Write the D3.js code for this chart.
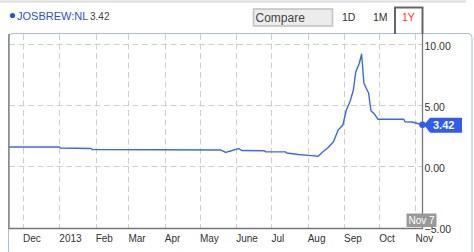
<!DOCTYPE html>
<html>
<head>
<meta charset="utf-8">
<script src="https://cdn.jsdelivr.net/npm/d3@7"></script>
<style>
  body { margin: 0; background: #fff; }
  svg { font-family: "Liberation Sans", Arial, sans-serif; }
</style>
</head>
<body>
<div id="chart"></div>
<script>
// price history, 1Y view
var priceDates = ["2012-11-19", "2013-01-01", "2013-01-02", "2013-01-28", "2013-01-29",
  "2013-05-19", "2013-05-23", "2013-05-27", "2013-06-03", "2013-06-06", "2013-06-25",
  "2013-06-26", "2013-07-13", "2013-07-14", "2013-07-24", "2013-08-04", "2013-08-10",
  "2013-08-14", "2013-08-18", "2013-08-23", "2013-08-27", "2013-08-31", "2013-09-03",
  "2013-09-06", "2013-09-09", "2013-09-11", "2013-09-14", "2013-09-16", "2013-09-18",
  "2013-09-21", "2013-09-22", "2013-09-24", "2013-09-27", "2013-09-30", "2013-10-22",
  "2013-10-23", "2013-10-29", "2013-11-07"];
var priceValues = [1.60, 1.60, 1.52, 1.48, 1.39,
  1.35, 1.16, 1.27, 1.46, 1.31, 1.29,
  1.20, 1.20, 1.11, 0.98, 0.89, 0.84,
  1.21, 1.52, 2.03, 2.99, 3.40, 4.63,
  5.29, 6.27, 7.75, 8.44, 9.20, 6.82,
  6.21, 6.02, 4.57, 4.30, 3.87, 3.87,
  3.67, 3.65, 3.42];
var monthTicks = ["2012-12-01", "2013-01-01", "2013-02-01", "2013-03-01", "2013-04-01",
  "2013-05-01", "2013-06-01", "2013-07-01", "2013-08-01", "2013-09-01", "2013-10-01", "2013-11-01"];
var monthLabels = ["Dec", "2013", "Feb", "Mar", "Apr", "May", "June", "Jul", "Aug", "Sep", "Oct", "Nov"];
var yTicks = [10, 5, 0, -5];
var symbol = "JOSBREW:NL";
var lastPrice = "3.42";
var lastDate = "Nov 7";
var ranges = ["1D", "1M", "1Y"];

var parse = d3.timeParse("%Y-%m-%d");
var data = priceDates.map((d, i) => ({ date: parse(d), value: priceValues[i] }));
var ticks = monthTicks.map(parse);

var W = 474, H = 252;
var svg = d3.select('#chart').append('svg').attr('width', W).attr('height', H);

var x = d3.scaleTime()
  .domain([parse("2012-11-19"), parse("2013-11-07")])
  .range([9, 422.5]);
var y = d3.scaleLinear().domain([-5, 10]).range([227.5, 44.5]);

// header
svg.append('line').attr('x1', 0).attr('x2', 466).attr('y1', 1.5).attr('y2', 1.5)
  .attr('stroke', '#dcdcdc').attr('stroke-width', 2);
svg.append('circle').attr('cx', 12.5).attr('cy', 15.5).attr('r', 2.6).attr('fill', '#2a4fe8');
svg.append('text').attr('x', 17).attr('y', 19.5).attr('font-size', 11).attr('fill', '#2a4fe8').text(symbol);
svg.append('text').attr('x', 90).attr('y', 19.5).attr('font-size', 10).attr('fill', '#444').text(lastPrice);

svg.append('rect').attr('x', 253.5).attr('y', 9).attr('width', 79).attr('height', 17)
  .attr('fill', '#ececec').attr('stroke', '#c4c4c4').attr('stroke-width', 1.6);
svg.append('text').attr('x', 255.5).attr('y', 22).attr('font-size', 12).attr('fill', '#444').text("Compare");

var rangeX = [342, 373, 402];
ranges.forEach((r, i) => {
  svg.append('text').attr('x', rangeX[i]).attr('y', 21).attr('font-size', 10.5)
    .attr('fill', i === 2 ? '#ff3a10' : '#333').text(r);
});

// chart panel
svg.append('path')
  .attr('d', 'M8.5,262 V37 Q8.5,33.5 12,33.5 H468 Q472,33.5 472,37.5 V262')
  .attr('fill', 'none').attr('stroke', '#a8bde0').attr('stroke-width', 1);

// gridlines
var grid = svg.append('g').attr('stroke', '#cfcfcf').attr('stroke-width', 1)
  .attr('stroke-dasharray', '6,3.5');
grid.selectAll('line.h').data(yTicks.slice(0, 3)).enter().append('line')
  .attr('x1', 9).attr('x2', 422).attr('y1', d => y(d)).attr('y2', d => y(d));
grid.selectAll('line.v').data(ticks).enter().append('line')
  .attr('x1', d => Math.round(x(d)) + 0.5).attr('x2', d => Math.round(x(d)) + 0.5)
  .attr('y1', 34).attr('y2', 228);

// frame
svg.append('path').attr('d', 'M9,34 V228.5 H422.5 V34')
  .attr('fill', 'none').attr('stroke', '#777').attr('stroke-width', 1.3);

// range tab
svg.append('path').attr('d', 'M395,34 V7.5 H422.5 V34')
  .attr('fill', 'none').attr('stroke', '#666').attr('stroke-width', 2);

// x axis
var xAxis = svg.append('g').attr('transform', 'translate(0,229)')
  .call(d3.axisBottom(x).tickValues(ticks).tickSize(0).tickPadding(6)
    .tickFormat((d, i) => monthLabels[i]));
xAxis.select('.domain').remove();
xAxis.selectAll('text').attr('text-anchor', 'start').attr('dx', '-0.5')
  .attr('font-size', 10).attr('font-family', null).attr('fill', '#333');

// y axis
var yAxis = svg.append('g').attr('transform', 'translate(422,2)')
  .call(d3.axisRight(y).tickValues(yTicks).tickSize(0).tickPadding(2.5)
    .tickFormat(d3.format(".2f")));
yAxis.select('.domain').remove();
yAxis.selectAll('text').attr('font-size', 10.5).attr('font-family', null).attr('fill', '#333');

// price line
var line = d3.line().x(d => x(d.date)).y(d => y(d.value));
svg.append('path').datum(data).attr('d', line)
  .attr('fill', 'none').attr('stroke', '#3b68f2').attr('stroke-width', 1.4)
  .attr('stroke-linejoin', 'round');

// last date flag
var last = data[data.length - 1];
svg.append('rect').attr('x', 406.5).attr('y', 213.5).attr('width', 30).attr('height', 13.5).attr('fill', '#9a9a9a');
svg.append('text').attr('x', 408.5).attr('y', 224).attr('font-size', 10).attr('fill', '#fff').text(lastDate);

// last price marker
var ly = y(last.value);
svg.append('circle').attr('cx', x(last.date)).attr('cy', ly).attr('r', 3.3).attr('fill', '#2f5cf5');
svg.append('path')
  .attr('d', `M424,${ly} L430,${ly - 7} H462 V${ly + 8} H430 Z`)
  .attr('fill', '#2f5cf5');
svg.append('text').attr('x', 433).attr('y', ly + 4).attr('font-size', 11).attr('font-weight', 'bold')
  .attr('fill', '#fff').text(lastPrice);
</script>
</body>
</html>
